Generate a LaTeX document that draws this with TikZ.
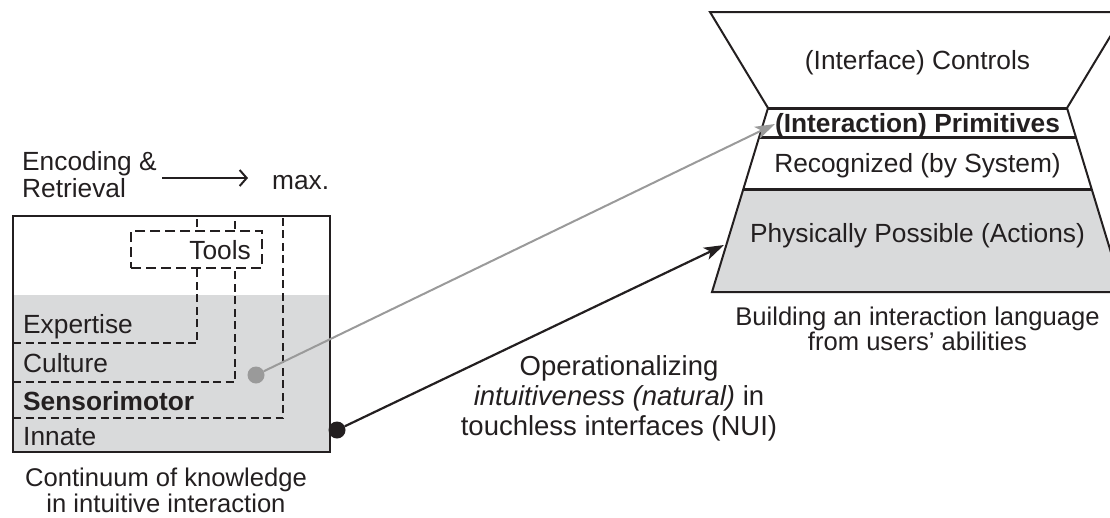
\documentclass[tikz,border=0pt]{standalone}
\usepackage{fontspec}
\setmainfont{Liberation Sans}
\usetikzlibrary{arrows.meta,calc}
\definecolor{ink}{HTML}{231F20}
\definecolor{fillgray}{HTML}{D9DADB}
\definecolor{arrgray}{HTML}{9A9A9A}
\begin{document}
\begin{tikzpicture}[x=1pt,y=-1pt,
  every node/.style={text=ink, inner sep=0pt, font=\fontsize{26.3}{29}\selectfont},
  lbl/.style={anchor=base west},
  ctr/.style={anchor=base},
  capfont/.style={font=\fontsize{25.6}{29}\selectfont},
  boxline/.style={draw=ink, line width=2.5pt},
  thindash/.style={draw=ink, line width=1.4pt, dash pattern=on 8pt off 4.5pt},
  toolsbox/.style={draw=ink, fill=white, line width=2.3pt, dash pattern=on 10pt off 5pt, minimum width=131pt, minimum height=37pt},
  trapline/.style={draw=ink, line width=2pt, line join=miter},
  divline/.style={draw=ink, line width=3pt},
  dot/.style={circle, minimum size=17pt},
  grayarrow/.style={draw=arrgray, line width=2pt, -{Stealth[length=20pt,width=13pt,inset=5pt]}},
  blackarrow/.style={draw=ink, line width=2.2pt, -{Stealth[length=20pt,width=13pt,inset=5pt]}},
  encarrow/.style={draw=ink, line width=2.5pt, -{Straight Barb[length=7pt,width=16pt,line width=2pt]}}
]
\useasboundingbox (0,0) rectangle (1110,517);

% ---------- left box ----------
\fill[fillgray] (13,295) rectangle (330,452);
\draw[thindash] (13,343) -| (197,216);
\draw[thindash] (13,382) -| (235,216);
\draw[thindash] (13,418) -| (283,216);
\node[toolsbox] (tools) at (196.5,249.5) {};
\node[anchor=base east] (toolslbl) at (251,259) {Tools};
\draw[boxline] (13,216) rectangle (330,452);

\node[lbl] (expertise) at (23,333) {Expertise};
\node[lbl] (culture) at (23,372) {Culture};
\node[lbl] (sensori) at (23,410) {\bfseries Sensorimotor};
\node[lbl] (innate) at (23,445) {Innate};

\node[lbl] (enc1) at (22,170) {Encoding \&};
\node[lbl] (enc2) at (22,197) {Retrieval};
\node[lbl] (max) at (272,189) {max.};
\coordinate (ea) at (162,178);
\coordinate (eb) at (248,178);
\draw[encarrow] (ea) -- (eb);

\node[ctr, capfont] (cap1) at (166,486) {Continuum of knowledge};
\node[ctr, capfont] (cap2) at (166,512) {in intuitive interaction};

% ---------- trapezoid ----------
\coordinate (TL) at (710,12);
\coordinate (TR) at (1125,12);
\coordinate (NL) at (768,108);
\coordinate (NR) at (1067,108);
\coordinate (BL) at (712,292);
\coordinate (BR) at (1123,292);
\coordinate (P1L) at ($(NL)!0.1576!(BL)$);
\coordinate (P1R) at ($(NR)!0.1576!(BR)$);
\coordinate (P2L) at ($(NL)!0.4402!(BL)$);
\coordinate (P2R) at ($(NR)!0.4402!(BR)$);
\fill[fillgray] (P2L) -- (BL) -- (BR) -- (P2R) -- cycle;
\draw[trapline] (TL) -- (TR) -- (NR) -- (BR) -- (BL) -- (NL) -- cycle;
\draw[divline] (NL) -- (NR);
\draw[divline] (P1L) -- (P1R);
\draw[divline] (P2L) -- (P2R);

\node[ctr] (controls) at (917.5,69) {(Interface) Controls};
\node[ctr] (prims) at (917.5,132) {\bfseries (Interaction) Primitives};
\node[ctr] (recog) at (917.5,172) {Recognized (by System)};
\node[ctr] (phys) at (917.5,242) {Physically Possible (Actions)};

\node[ctr, capfont] (rcap1) at (917.5,325) {Building an interaction language};
\node[ctr, capfont] (rcap2) at (917.5,350) {from users’ abilities};

% ---------- connectors ----------
\node[dot, fill=arrgray] (gdot) at (256,375) {};
\node[dot, fill=ink] (bdot) at (337,430) {};
\coordinate (gtip) at (775,124);
\coordinate (btip) at (724,245);
\draw[grayarrow] (gdot) -- (gtip);
\draw[blackarrow] (bdot) -- (btip);

\node[anchor=base, align=center, font=\fontsize{27.5}{30}\selectfont] (oplbl) at (619,435)
  {Operationalizing\\ \itshape intuitiveness (natural)\upshape{} in\\ touchless interfaces (NUI)};
\end{tikzpicture}
\end{document}
